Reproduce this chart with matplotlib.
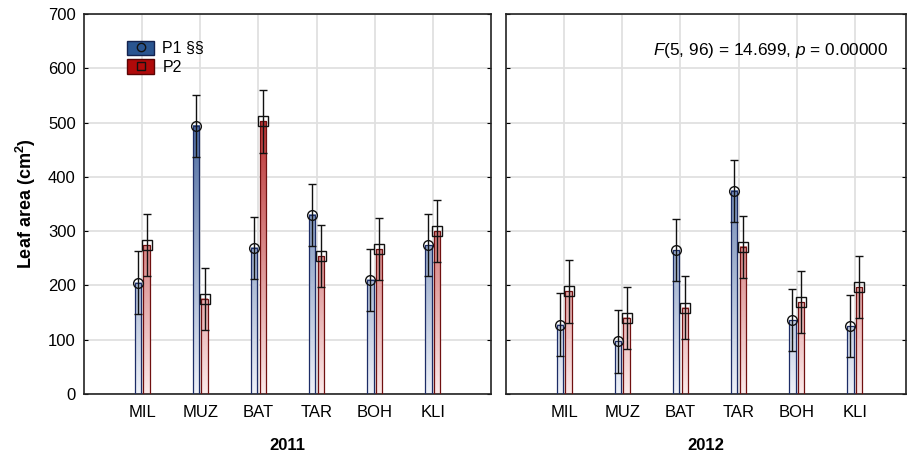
import numpy as np
import matplotlib.pyplot as plt
from matplotlib.colors import LinearSegmentedColormap
from matplotlib.patches import Patch
from matplotlib.lines import Line2D

plt.rcParams['font.family'] = ['Liberation Sans', 'DejaVu Sans']
plt.rcParams['mathtext.fontset'] = 'custom'
plt.rcParams['mathtext.rm'] = 'Liberation Sans'
plt.rcParams['mathtext.it'] = 'Liberation Sans:italic'
plt.rcParams['mathtext.bf'] = 'Liberation Sans:bold'

sites = ["MIL", "MUZ", "BAT", "TAR", "BOH", "KLI"]
years = ["2011", "2012"]

# means
p1_2011 = [205, 494, 269, 330, 210, 274]
p2_2011 = [274, 175, 502, 254, 267, 300]
p1_2012 = [128, 97, 265, 374, 136, 125]
p2_2012 = [189, 140, 159, 271, 169, 197]
# half length of the error bars
err_2011 = [57.5, 57.5, 57.5, 57.5, 57.5, 57.5]
err_2012 = [57.5, 57.5, 57.5, 57.5, 57.5, 57.5]

stat_text = r"$\it{F}$(5, 96) = 14.699, $\it{p}$ = 0.00000"

blue_cm = LinearSegmentedColormap.from_list("b", ["#eef1f8", "#3a5c98"])
red_cm = LinearSegmentedColormap.from_list("r", ["#fbe9e9", "#b42020"])
VMAX = 560

fig = plt.figure(figsize=(9.07, 4.61), dpi=100)
ax1 = fig.add_axes([84/907, 67/461, 407/907, 380/461])
ax2 = fig.add_axes([506/907, 67/461, 400/907, 380/461])

bw = 0.11
off = 0.075


def grad_bar(ax, x, h, cmap, edge):
    x0 = x - bw/2
    grad = np.linspace(0, h, 100).reshape(-1, 1)
    ax.imshow(grad, extent=[x0, x0 + bw, 0, h], origin='lower', aspect='auto',
              cmap=cmap, vmin=0, vmax=VMAX, zorder=2, interpolation='bilinear')
    ax.bar(x, h, width=bw, facecolor='none', edgecolor=edge, linewidth=0.9, zorder=3)


def panel(ax, p1, p2, err, year, xmax):
    xs = np.arange(len(sites))
    for i in xs:
        grad_bar(ax, i - off, p1[i], blue_cm, "#1c2c66")
        grad_bar(ax, i + off, p2[i], red_cm, "#701010")
    ax.errorbar(xs - off, p1, yerr=err, fmt='o', mfc='none', mec='#111111', ms=7,
                ecolor='#111111', elinewidth=1, capsize=2.6, capthick=1, zorder=5)
    ax.errorbar(xs + off, p2, yerr=err, fmt='s', mfc='none', mec='#111111', ms=7,
                ecolor='#111111', elinewidth=1, capsize=2.6, capthick=1, zorder=5)
    ax.set_xlim(-1, xmax)
    ax.set_ylim(0, 700)
    ax.set_xticks(xs)
    ax.set_xticklabels(sites, fontsize=12)
    ax.set_yticks(np.arange(0, 701, 100))
    ax.grid(True, color='#e0e0e0', linewidth=1.3, zorder=0)
    ax.set_axisbelow(True)
    ax.tick_params(direction='in', length=3, top=True, right=True, labelsize=12, pad=6)
    ax.tick_params(axis='x', length=0, pad=8)
    for s in ax.spines.values():
        s.set_linewidth(1.2)
        s.set_color('#222222')
    ax.set_xlabel(year, fontsize=12, fontweight='bold', labelpad=13)


panel(ax1, p1_2011, p2_2011, err_2011, years[0], 6)
panel(ax2, p1_2012, p2_2012, err_2012, years[1], 5.88)
ax2.set_yticklabels([])

ax1.set_ylabel(r"Leaf area (cm$^{\mathbf{2}}$)", fontsize=13, fontweight='bold', labelpad=7)

ax2.text(0.955, 0.905, stat_text, transform=ax2.transAxes, ha='right', va='center', fontsize=12.4)

h1 = (Patch(facecolor="#2a5590", edgecolor="#14224e"),
      Line2D([], [], marker='o', ls='none', mfc='none', mec='#111111', ms=6))
h2 = (Patch(facecolor="#b00a0a", edgecolor="#5a0505"),
      Line2D([], [], marker='s', ls='none', mfc='none', mec='#111111', ms=6))
ax1.legend([h1, h2], ["P1 §§", "P2"], loc='upper left', bbox_to_anchor=(0.106, 0.93),
           frameon=False, fontsize=11.5, handlelength=1.7, handleheight=1.0,
           labelspacing=0.2, handletextpad=0.5, borderpad=0, borderaxespad=0)

fig.savefig("out.png", dpi=100)
